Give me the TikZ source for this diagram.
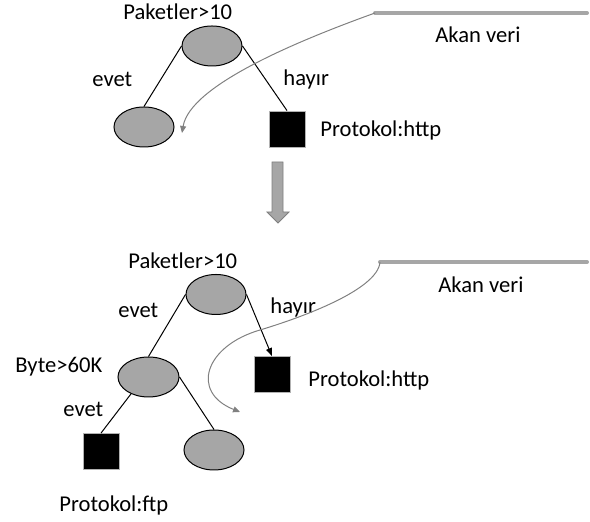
\documentclass[tikz,border=0pt]{standalone}
\usepackage{fontspec}
\setmainfont{Carlito}
\usetikzlibrary{shapes.geometric,arrows.meta}
\definecolor{ellgray}{HTML}{A6A6A6}
\definecolor{flowgray}{HTML}{808080}
\definecolor{arrgray}{HTML}{7F7F7F}
\tikzset{
  ell/.style={ellipse, draw=black, line width=0.5pt, fill=ellgray, minimum width=30pt, minimum height=20pt, inner sep=0pt},
  sq/.style={rectangle, fill=black, draw=gray!60, line width=0.4pt, minimum size=18pt, inner sep=0pt},
  lbl/.style={anchor=base west, inner sep=0pt, font=\fontsize{11.3pt}{13pt}\selectfont},
  edge/.style={draw=black, line width=0.5pt},
  stream/.style={draw=ellgray, line width=2pt, line cap=round},
  flow/.style={draw=flowgray, line width=0.5pt, -{Triangle[length=3.5pt,width=3pt]}},
}
\begin{document}
\begin{tikzpicture}[x=0.5pt,y=-0.5pt]
\useasboundingbox (0,0) rectangle (590,522);
% ---------- top tree ----------
\node[ell] (r1) at (212,46) {};
\node[ell] (a1) at (144,127) {};
\node[sq] (s1) at (287,129) {};
\draw[edge] (r1.west) -- (a1.north);
\draw[edge] (r1.east) -- (s1.north);
\node[lbl] (p1) at (123,20) {Paketler>10};
\node[lbl] (e1) at (92,87) {evet};
\node[lbl] (h1) at (283,86) {hayır};
\node[lbl] (ph1) at (320,137) {Protokol:http};
\node[lbl] (av1) at (435,43) {Akan veri};
\coordinate (f1) at (375,13);
\coordinate (f1e) at (587,13);
\coordinate (t1) at (182,133);
\draw[stream] (f1) -- (f1e);
\draw[flow] (f1) .. controls (300,40) and (190,85) .. (t1);
% ---------- transition arrow ----------
\fill[ellgray, draw=arrgray, line width=0.4pt] (272,162) -- (283,162) -- (283,212) -- (289,212) -- (278,223) -- (267,212) -- (272,212) -- cycle;
% ---------- bottom tree ----------
\node[ell] (r2) at (216,294.5) {};
\node[ell, minimum width=30.5pt] (b2) at (148.5,377) {};
\node[ell] (a3) at (214,450) {};
\node[sq] (s2) at (272,374.5) {};
\node[sq] (s3) at (101,451.5) {};
\draw[edge] (r2.west) -- (b2.north);
\draw[edge, -{Triangle[length=4pt,width=3pt]}] (r2.east) -- (s2.north);
\draw[edge] (b2.224) -- (s3.north);
\draw[edge] (b2.east) -- (a3.north);
\node[lbl] (p2) at (128,269) {Paketler>10};
\node[lbl] (e2) at (118,318) {evet};
\node[lbl] (h2) at (270,314) {hayır};
\node[lbl] (ph2) at (308,387) {Protokol:http};
\node[lbl] (av2) at (438,293) {Akan veri};
\node[lbl] (by) at (15,373) {Byte>60K};
\node[lbl] (e3) at (63,417) {evet};
\node[lbl] (pf) at (59,512) {Protokol:ftp};
\coordinate (f2) at (380,262);
\coordinate (f2e) at (587,262);
\coordinate (m2) at (260,330);
\coordinate (t2) at (240,412);
\draw[stream] (f2) -- (f2e);
\draw[flow] (f2) .. controls (378,290) and (300,318) .. (m2) .. controls (205,346) and (190,392) .. (t2);
\end{tikzpicture}
\end{document}
